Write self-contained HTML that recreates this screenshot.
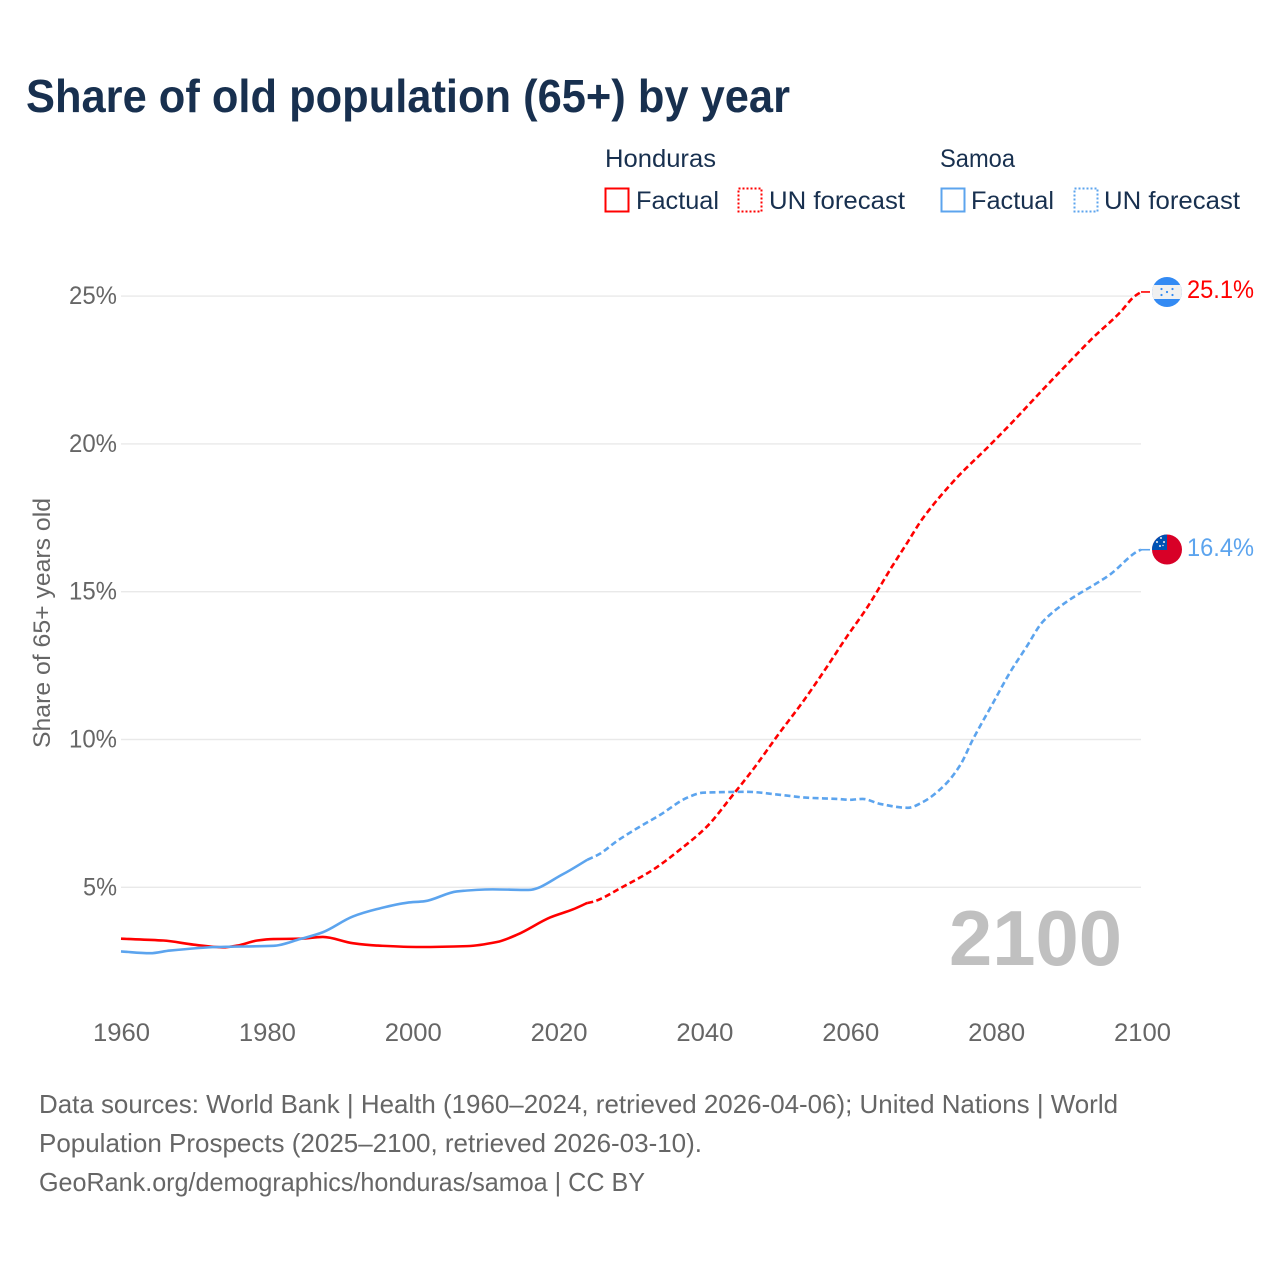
<!DOCTYPE html>
<html lang="en">
<head>
<meta charset="utf-8">
<title>Share of old population (65+) by year</title>
<style>
html,body{margin:0;padding:0;background:#fff;}
svg{display:block;font-family:"Liberation Sans",sans-serif;}
</style>
</head>
<body>
<svg id="chart" width="1280" height="1280" viewBox="0 0 1280 1280" xmlns="http://www.w3.org/2000/svg">
  <rect width="1280" height="1280" fill="#fff"/>
  <text x="26" y="112" font-size="46" font-weight="700" fill="#18304f" textLength="764" lengthAdjust="spacingAndGlyphs">Share of old population (65+) by year</text>

  <g font-size="25" fill="#18304f">
    <text x="605" y="167" textLength="111" lengthAdjust="spacingAndGlyphs">Honduras</text>
    <text x="940" y="167" textLength="75" lengthAdjust="spacingAndGlyphs">Samoa</text>
    <rect x="605.5" y="188.5" width="23" height="23" fill="none" stroke="#ff0000" stroke-width="2"/>
    <text x="636" y="209" textLength="83" lengthAdjust="spacingAndGlyphs">Factual</text>
    <rect x="738.5" y="188.5" width="23" height="23" fill="none" stroke="#ff0000" stroke-width="2" stroke-dasharray="2 2"/>
    <text x="769" y="209" textLength="136" lengthAdjust="spacingAndGlyphs">UN forecast</text>
    <rect x="941.5" y="188.5" width="23" height="23" fill="none" stroke="#5ca4ee" stroke-width="2"/>
    <text x="971" y="209" textLength="83" lengthAdjust="spacingAndGlyphs">Factual</text>
    <rect x="1074.5" y="188.5" width="23" height="23" fill="none" stroke="#5ca4ee" stroke-width="2" stroke-dasharray="2 2"/>
    <text x="1104" y="209" textLength="136" lengthAdjust="spacingAndGlyphs">UN forecast</text>
  </g>

  <g id="grid"></g>
  <g id="ytick-labels"></g>
  <g id="xtick-labels"></g>
  <text x="50" y="623" font-size="24" fill="#666" text-anchor="middle" transform="rotate(-90 50 623)" textLength="250" lengthAdjust="spacingAndGlyphs">Share of 65+ years old</text>

  <text x="949" y="965" font-size="78" font-weight="700" fill="#c0c0c0" textLength="173" lengthAdjust="spacingAndGlyphs">2100</text>

  <g id="series"></g>

  <defs>
    <clipPath id="clip-hn"><circle id="clip-hn-circle" cx="1167" cy="292" r="15"/></clipPath>
    <clipPath id="clip-ws"><circle id="clip-ws-circle" cx="1167" cy="549.5" r="15"/></clipPath>
  </defs>

  <g id="flag-honduras" clip-path="url(#clip-hn)">
    <rect x="1152" y="277" width="30" height="30" fill="#338af3"/>
    <rect x="1152" y="285" width="30" height="14" fill="#f0f0f0"/>
    <g fill="#338af3">
      <circle cx="1167" cy="292" r="1.1"/>
      <circle cx="1161.5" cy="289" r="1.1"/>
      <circle cx="1161.5" cy="295" r="1.1"/>
      <circle cx="1172.5" cy="289" r="1.1"/>
      <circle cx="1172.5" cy="295" r="1.1"/>
    </g>
  </g>
  <g id="flag-samoa" clip-path="url(#clip-ws)">
    <rect x="1152" y="534" width="30" height="31" fill="#d80027"/>
    <rect x="1152" y="534" width="15" height="16" fill="#0052b4"/>
    <g fill="#f0f0f0">
      <circle cx="1161" cy="538" r="1"/>
      <circle cx="1157" cy="542" r="1"/>
      <circle cx="1164" cy="542" r="1"/>
      <circle cx="1160" cy="546" r="1"/>
      <circle cx="1163" cy="545.5" r="0.7"/>
    </g>
  </g>

  <text id="label-honduras" x="1187" y="298" font-size="25" fill="#ff0000" textLength="67" lengthAdjust="spacingAndGlyphs">25.1%</text>
  <text id="label-samoa" x="1187" y="556" font-size="25" fill="#5ca4ee" textLength="67" lengthAdjust="spacingAndGlyphs">16.4%</text>

  <g font-size="26" fill="#666">
    <text x="39" y="1113" textLength="1079" lengthAdjust="spacingAndGlyphs">Data sources: World Bank | Health (1960–2024, retrieved 2026-04-06); United Nations | World</text>
    <text x="39" y="1152" textLength="663" lengthAdjust="spacingAndGlyphs">Population Prospects (2025–2100, retrieved 2026-03-10).</text>
    <text x="39" y="1191" textLength="606" lengthAdjust="spacingAndGlyphs">GeoRank.org/demographics/honduras/samoa | CC BY</text>
  </g>
</svg>

<script>
const xTickValues = [1960, 1980, 2000, 2020, 2040, 2060, 2080, 2100];
const yTickValues = [5, 10, 15, 20, 25];

const hondurasFactualYears = [1960, 1965.8, 1970, 1974, 1976, 1978.7, 1980.9, 1984.6, 1987.7, 1991.8, 1995.1, 2001, 2007.5, 2011.6, 2014.4, 2018.9, 2022, 2024];
const hondurasFactualValues = [3.26, 3.20, 3.06, 2.97, 3.03, 3.20, 3.25, 3.26, 3.32, 3.11, 3.03, 2.98, 3.01, 3.15, 3.40, 3.98, 4.25, 4.47];

const hondurasForecastYears = [2024, 2024.8, 2028.9, 2033, 2036.7, 2040.4, 2044, 2046.7, 2050.4, 2053.6, 2056.9, 2059.6, 2062.4, 2065.8, 2067.9, 2070.1, 2074.7, 2078.9, 2082.4, 2086.5, 2089.8, 2093.4, 2097.1, 2099, 2100];
const hondurasForecastValues = [4.47, 4.51, 5.02, 5.59, 6.27, 7.05, 8.13, 8.97, 10.23, 11.28, 12.46, 13.47, 14.46, 15.84, 16.65, 17.5, 18.85, 19.87, 20.75, 21.83, 22.68, 23.59, 24.44, 24.97, 25.14];

const samoaFactualYears = [1960, 1964, 1966.7, 1973.2, 1980.9, 1984.6, 1987.7, 1991.8, 1995.1, 1999.3, 2001.7, 2006.1, 2011, 2015.9, 2020.7, 2024];
const samoaFactualValues = [2.83, 2.77, 2.86, 2.98, 3.02, 3.25, 3.48, 4.01, 4.26, 4.48, 4.53, 4.86, 4.93, 4.91, 5.45, 5.93];

const samoaForecastYears = [2024, 2025.7, 2028.1, 2031.2, 2034, 2037.7, 2039.9, 2045.9, 2050.4, 2054.2, 2058.3, 2060, 2061.8, 2064.2, 2068, 2070.1, 2073.1, 2075.2, 2076.9, 2079.7, 2082, 2084.3, 2086.5, 2089.8, 2094, 2095.7, 2099.4, 2100];
const samoaForecastValues = [5.93, 6.13, 6.57, 7.05, 7.45, 8.03, 8.2, 8.23, 8.13, 8.03, 7.99, 7.96, 7.99, 7.82, 7.69, 7.89, 8.47, 9.14, 9.99, 11.24, 12.26, 13.14, 13.98, 14.66, 15.3, 15.57, 16.35, 16.42];

const NS = 'http://www.w3.org/2000/svg';
const RED = '#ff0000';
const BLUE = '#5ca4ee';

function xScale(year) { return 121 + (year - 1960) * (1141 - 121) / 140; }
function yScale(value) { return 887.3 - (value - 5) * 29.56; }

function monotonePath(years, values) {
  const xs = years.map(xScale);
  const ys = values.map(yScale);
  const n = xs.length;
  const slopes = [];
  for (let i = 0; i < n - 1; i++) slopes.push((ys[i + 1] - ys[i]) / (xs[i + 1] - xs[i]));
  const tangents = [slopes[0]];
  for (let i = 1; i < n - 1; i++) {
    tangents.push(slopes[i - 1] * slopes[i] <= 0 ? 0 : 2 * slopes[i - 1] * slopes[i] / (slopes[i - 1] + slopes[i]));
  }
  tangents.push(slopes[n - 2]);
  let d = 'M' + xs[0].toFixed(2) + ' ' + ys[0].toFixed(2);
  for (let i = 0; i < n - 1; i++) {
    const h = (xs[i + 1] - xs[i]) / 3;
    d += 'C' + (xs[i] + h).toFixed(2) + ' ' + (ys[i] + tangents[i] * h).toFixed(2) + ' '
      + (xs[i + 1] - h).toFixed(2) + ' ' + (ys[i + 1] - tangents[i + 1] * h).toFixed(2) + ' '
      + xs[i + 1].toFixed(2) + ' ' + ys[i + 1].toFixed(2);
  }
  return d;
}

const gridGroup = document.getElementById('grid');
const yLabelGroup = document.getElementById('ytick-labels');
const xLabelGroup = document.getElementById('xtick-labels');
const seriesGroup = document.getElementById('series');

yTickValues.forEach(function (tick) {
  const line = document.createElementNS(NS, 'line');
  
  
  line.setAttribute('x1', xScale(1960));
  line.setAttribute('x2', xScale(2100));
  line.setAttribute('y1', yScale(tick));
  line.setAttribute('y2', yScale(tick));
  line.setAttribute('stroke', '#e9e9e9');
  line.setAttribute('stroke-width', '1.4');
  gridGroup.appendChild(line);

  const label = document.createElementNS(NS, 'text');
  
  
  label.setAttribute('x', 117);
  label.setAttribute('y', yScale(tick) + 8);
  label.setAttribute('text-anchor', 'end');
  label.setAttribute('font-size', '25');
  label.setAttribute('fill', '#666');
  label.setAttribute('textLength', tick < 10 ? '34' : '48');
  label.setAttribute('lengthAdjust', 'spacingAndGlyphs');
  label.textContent = tick + '%';
  yLabelGroup.appendChild(label);
});

xTickValues.forEach(function (tick) {
  const label = document.createElementNS(NS, 'text');
  
  
  label.setAttribute('x', xScale(tick) + 0.5 + (tick - 1960) * 0.007);
  label.setAttribute('y', 1041);
  label.setAttribute('text-anchor', 'middle');
  label.setAttribute('font-size', '25');
  label.setAttribute('fill', '#666');
  label.setAttribute('textLength', '57');
  label.setAttribute('lengthAdjust', 'spacingAndGlyphs');
  label.textContent = tick;
  xLabelGroup.appendChild(label);
});

function drawLine(name, years, values, color, dashed) {
  const path = document.createElementNS(NS, 'path');
  
  
  path.setAttribute('d', monotonePath(years, values));
  path.setAttribute('fill', 'none');
  path.setAttribute('stroke', color);
  path.setAttribute('stroke-width', '2.6');
  if (dashed) path.setAttribute('stroke-dasharray', '6 3.4');
  seriesGroup.appendChild(path);
}

function drawConnector(name, value, color) {
  const line = document.createElementNS(NS, 'line');
  
  
  line.setAttribute('x1', xScale(2100));
  line.setAttribute('x2', xScale(2100) + 9);
  line.setAttribute('y1', yScale(value));
  line.setAttribute('y2', yScale(value));
  line.setAttribute('stroke', color);
  line.setAttribute('stroke-width', '1.6');
  seriesGroup.appendChild(line);
}

drawLine('line-honduras-factual', hondurasFactualYears, hondurasFactualValues, RED, false);
drawLine('line-samoa-factual', samoaFactualYears, samoaFactualValues, BLUE, false);
drawLine('line-samoa-forecast', samoaForecastYears, samoaForecastValues, BLUE, true);
drawLine('line-honduras-forecast', hondurasForecastYears, hondurasForecastValues, RED, true);

const hondurasLast = hondurasForecastValues[hondurasForecastValues.length - 1];
const samoaLast = samoaForecastValues[samoaForecastValues.length - 1];
drawConnector('connector-honduras', hondurasLast, RED);
drawConnector('connector-samoa', samoaLast, BLUE);

function placeEnd(flagId, labelId, value, baseValue, baseLabelY) {
  const dy = yScale(value) - yScale(baseValue);
  document.getElementById(flagId).setAttribute('transform', 'translate(0 ' + dy.toFixed(2) + ')');
  const label = document.getElementById(labelId);
  label.setAttribute('y', (baseLabelY + dy).toFixed(2));
  label.textContent = value.toFixed(1) + '%';
}
placeEnd('flag-honduras', 'label-honduras', hondurasLast, 25.14, 298);
placeEnd('flag-samoa', 'label-samoa', samoaLast, 16.42, 556);
</script>
</body>
</html>
